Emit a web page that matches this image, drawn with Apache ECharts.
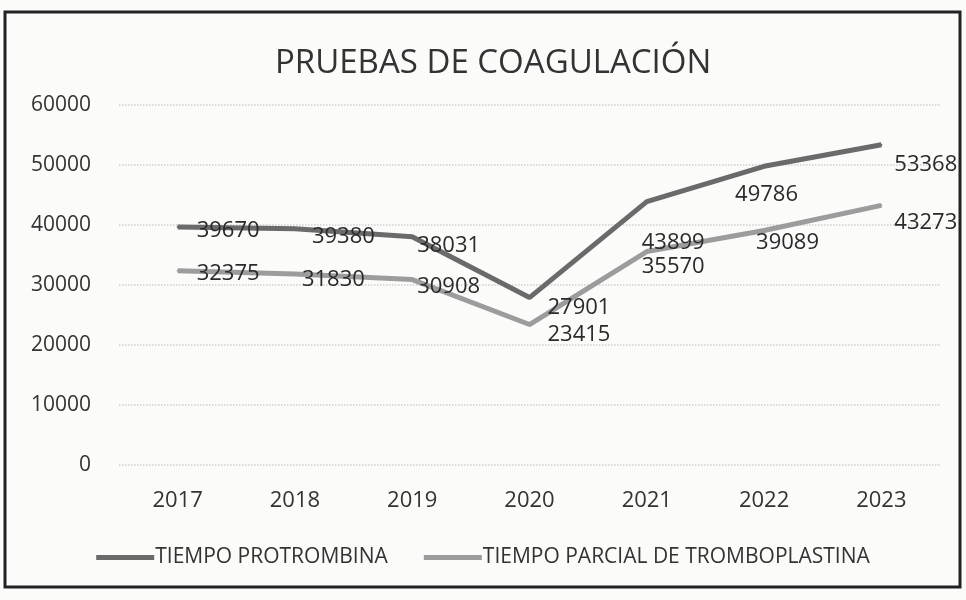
<!DOCTYPE html>
<html>
<head>
<meta charset="utf-8">
<script src="https://cdn.jsdelivr.net/npm/echarts@6/dist/echarts.min.js"></script>
<style>
  html, body { margin: 0; padding: 0; background: #fbfbfa; }
  #chart { width: 966px; height: 600px; }
</style>
</head>
<body>
<div id="chart"></div>
<script>
// datos
var years = ['2017', '2018', '2019', '2020', '2021', '2022', '2023'];
var tiempoProtrombina = [39670, 39380, 38031, 27901, 43899, 49786, 53368];
var tiempoParcial = [32375, 31830, 30908, 23415, 35570, 39089, 43273];
var yTicks = [0, 10000, 20000, 30000, 40000, 50000, 60000];

var FONT = '"Open Sans", "Noto Sans", sans-serif';

// posicion de etiquetas (como en el original, algunas debajo del punto)
function withLabels(values, offsets) {
  return values.map(function (v, i) {
    return { value: v, label: { offset: offsets[i] } };
  });
}
var offPT = [[14, 4], [12, 8], [0, 9], [13, 10], [-10, 41], [-34, 28], [8, 20]];
var offPTT = [[14, 3], [2, 6], [0, 7], [13, 10], [-10, 15], [-13, 12], [8, 17]];

var chart = echarts.init(document.getElementById('chart'));
chart.setOption({
  backgroundColor: '#fbfbfa',
  animation: false,
  title: {
    text: 'PRUEBAS DE COAGULACIÓN',
    left: 270,
    top: 42,
    textStyle: { fontFamily: FONT, fontSize: 33, fontWeight: 'normal', color: '#333' }
  },
  graphic: [{
    type: 'rect',
    shape: { x: 5, y: 12, width: 955, height: 575 },
    style: { fill: 'none', stroke: '#222', lineWidth: 3 },
    z: 100
  }],
  legend: {
    bottom: 27,
    left: 'center',
    itemWidth: 58,
    itemHeight: 5,
    itemGap: 36,
    icon: 'rect',
    textStyle: { fontFamily: FONT, fontSize: 21, color: '#333', padding: [0, 0, 0, -4] },
    data: ['TIEMPO PROTROMBINA', 'TIEMPO PARCIAL DE TROMBOPLASTINA']
  },
  grid: { left: 119, right: 26, top: 105, bottom: 135 },
  xAxis: {
    type: 'category',
    data: years,
    axisLine: { show: false },
    axisTick: { show: false },
    axisLabel: { fontFamily: FONT, fontSize: 22, color: '#333', margin: 25 }
  },
  yAxis: {
    type: 'value',
    min: yTicks[0],
    max: yTicks[yTicks.length - 1],
    interval: 10000,
    axisLine: { show: false },
    axisTick: { show: false },
    axisLabel: { fontFamily: FONT, fontSize: 21, color: '#333', margin: 28, formatter: function (v) { return String(v); } },
    splitLine: { lineStyle: { color: '#cfcfcf', width: 1.5, type: 'dotted' } }
  },
  series: [{
    name: 'TIEMPO PROTROMBINA',
    type: 'line',
    data: withLabels(tiempoProtrombina, offPT),
    symbol: 'circle',
    symbolSize: 2,
    showSymbol: true,
    color: '#6a6a6a',
    lineStyle: { width: 5, color: '#6a6a6a' },
    label: {
      show: true, position: 'right', distance: 4,
      fontFamily: FONT, fontSize: 22, color: '#2a2a2a'
    }
  }, {
    name: 'TIEMPO PARCIAL DE TROMBOPLASTINA',
    type: 'line',
    data: withLabels(tiempoParcial, offPTT),
    symbol: 'circle',
    symbolSize: 2,
    showSymbol: true,
    color: '#9c9c9c',
    lineStyle: { width: 5, color: '#9c9c9c' },
    label: {
      show: true, position: 'right', distance: 4,
      fontFamily: FONT, fontSize: 22, color: '#2a2a2a'
    }
  }]
});
</script>
</body>
</html>
